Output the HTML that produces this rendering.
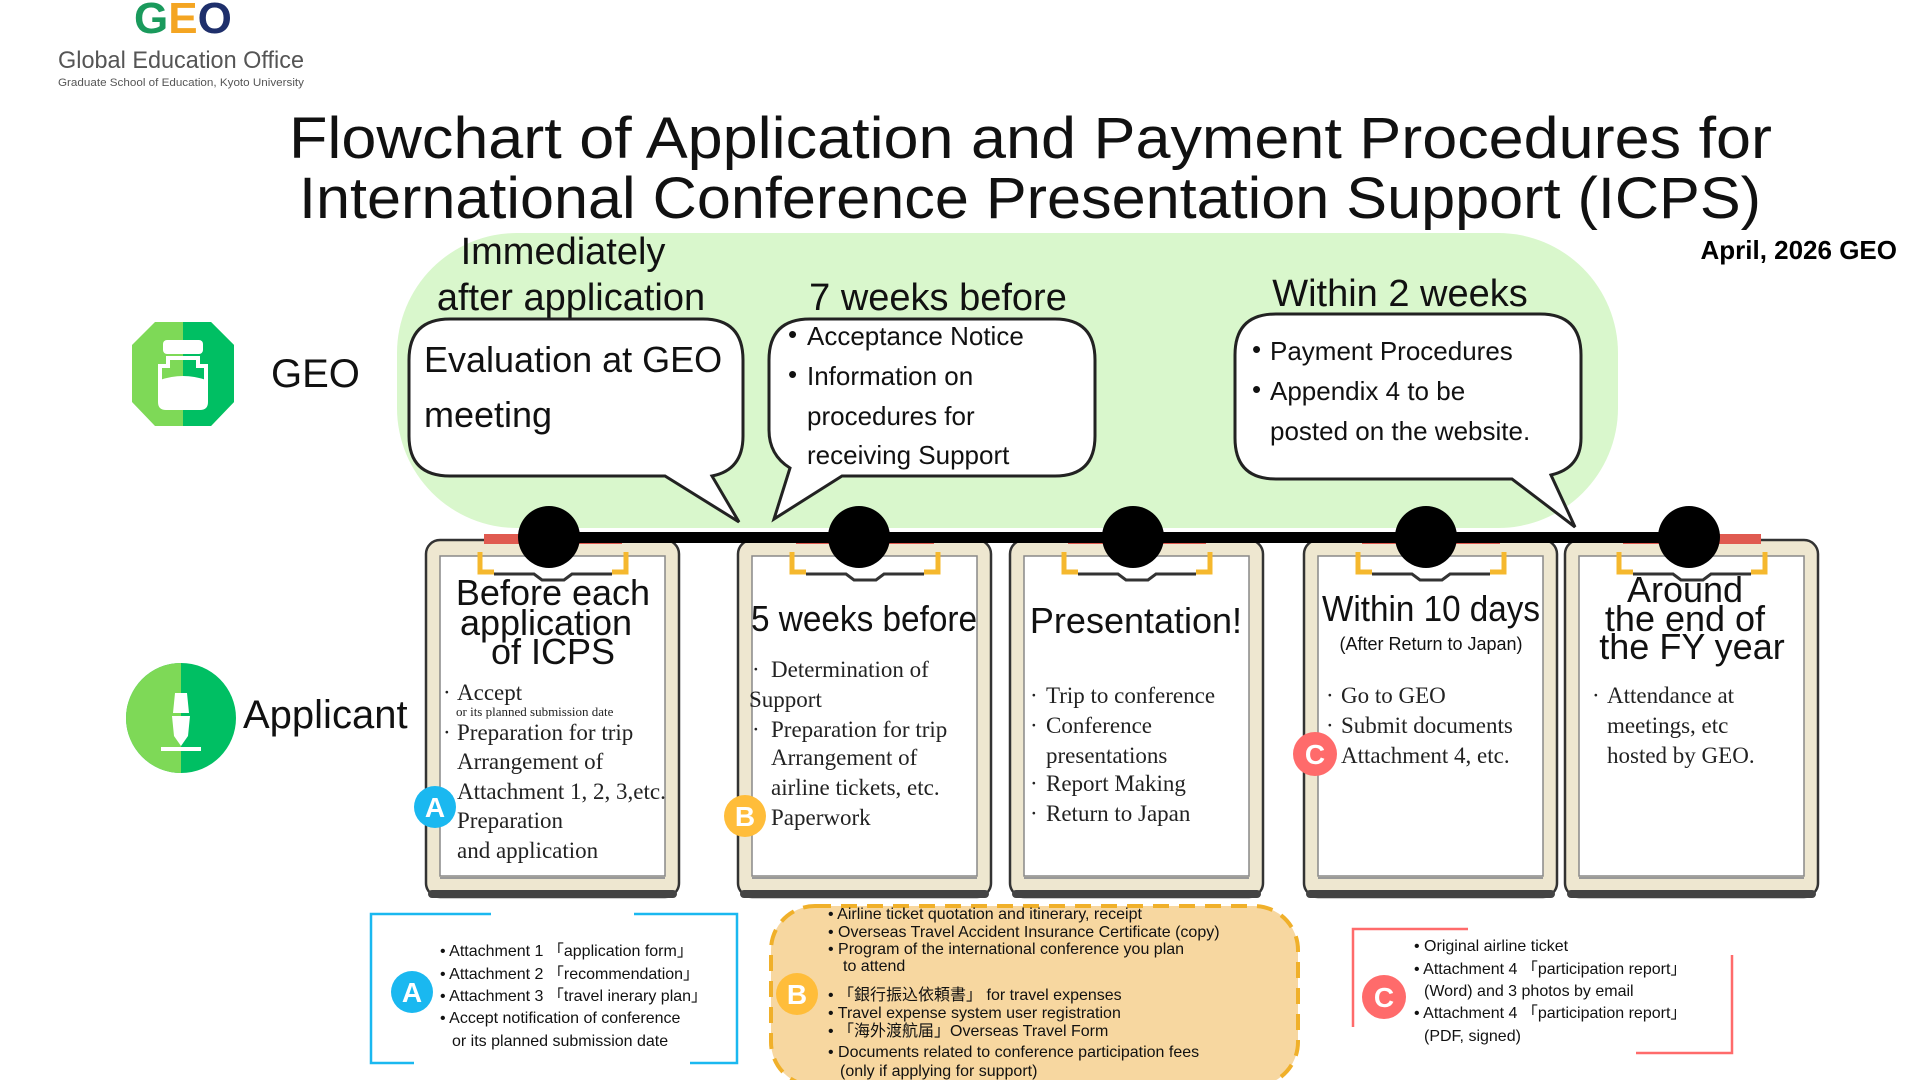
<!DOCTYPE html>
<html><head><meta charset="utf-8"><style>
html,body{margin:0;padding:0;background:#fff;width:1920px;height:1080px;overflow:hidden}
svg{display:block}
.h{font-family:"Liberation Sans Narrow","Liberation Sans",sans-serif}
.s{font-family:"Liberation Serif",serif;fill:#222}
.t{font-family:"Liberation Sans Narrow","Liberation Sans",sans-serif;fill:#111}
</style></head><body>
<svg width="1920" height="1080" viewBox="0 0 1920 1080" xmlns="http://www.w3.org/2000/svg">
<defs>
<g id="clip">
 <rect x="0" y="0" width="253" height="357" rx="14" fill="#eee7d0" stroke="#333" stroke-width="2.5"/>
 <rect x="2" y="350" width="249" height="8" rx="4" fill="#444"/>
 <rect x="14" y="16" width="225" height="320" fill="#fff" stroke="#888" stroke-width="1.5"/>
 <line x1="14" y1="338" x2="239" y2="338" stroke="#999" stroke-width="2"/>
 <rect x="58" y="-6" width="138" height="10" fill="#e05a50"/>
 <path d="M54 12 v20 h14 M200 12 v20 h-14" fill="none" stroke="#f5b82e" stroke-width="5"/>
 <path d="M68 34 h40 l8 6 h22 l8 -6 h40" fill="none" stroke="#333" stroke-width="3"/>
</g>
</defs>

<!-- logo -->
<text x="134" y="33" font-family="Liberation Sans" font-weight="bold" font-size="44" fill="#1a9a5c">G<tspan fill="#f4a522">E</tspan><tspan fill="#1e2f6b">O</tspan></text>
<text x="58" y="68" class="h" font-size="24" fill="#555" textLength="246" lengthAdjust="spacingAndGlyphs">Global Education Office</text>
<text x="58" y="86" class="h" font-size="11" fill="#555" textLength="246" lengthAdjust="spacingAndGlyphs">Graduate School of Education, Kyoto University</text>

<!-- title -->
<text x="289" y="158" class="t" font-size="58" textLength="1483" lengthAdjust="spacingAndGlyphs">Flowchart of Application and Payment Procedures for</text>
<text x="299" y="218" class="t" font-size="58" textLength="1462" lengthAdjust="spacingAndGlyphs">International Conference Presentation Support (ICPS)</text>
<text x="1897" y="259" text-anchor="end" font-family="Liberation Sans" font-weight="bold" font-size="26">April, 2026 GEO</text>

<!-- green region -->
<rect x="397" y="233" width="1221" height="295" rx="120" fill="#d9f7cc"/>

<text x="563" y="264" text-anchor="middle" class="t" font-size="38">Immediately</text>
<text x="571" y="310" text-anchor="middle" class="t" font-size="38">after application</text>
<text x="938" y="310" text-anchor="middle" class="t" font-size="38">7 weeks before</text>
<text x="1400" y="306" text-anchor="middle" class="t" font-size="38">Within 2 weeks</text>

<!-- bubbles -->
<path d="M450 319 H703 Q743 319 743 360 V436 Q743 470 712 476 L739 522 L665 476 H450 Q409 476 409 436 V360 Q409 319 450 319 Z" fill="#fff" stroke="#222" stroke-width="3"/>
<path d="M810 319 H1055 Q1095 319 1095 360 V436 Q1095 476 1055 476 H842 L774 519 L790 468 Q769 455 769 430 V360 Q769 319 810 319 Z" fill="#fff" stroke="#222" stroke-width="3"/>
<path d="M1276 314 H1540 Q1581 314 1581 355 V438 Q1581 468 1551 475 L1575 527 L1512 479 H1276 Q1235 479 1235 438 V355 Q1235 314 1276 314 Z" fill="#fff" stroke="#222" stroke-width="3"/>

<g class="t">
<text x="424" y="372" font-size="36">Evaluation at GEO</text>
<text x="424" y="427" font-size="36">meeting</text>
<g font-size="26">
<text x="788" y="343">•</text><text x="807" y="345">Acceptance Notice</text>
<text x="788" y="383">•</text><text x="807" y="385">Information on</text>
<text x="807" y="425">procedures for</text>
<text x="807" y="464">receiving Support</text>
<text x="1252" y="358">•</text><text x="1270" y="360">Payment Procedures</text>
<text x="1252" y="398">•</text><text x="1270" y="400">Appendix 4 to be</text>
<text x="1270" y="440">posted on the website.</text>
</g>
</g>

<!-- icons -->
<polygon points="155,322 211,322 234,345 234,402 211,426 155,426 132,402 132,345" fill="#7ed957"/>
<path d="M183 322 H211 L234 345 V402 L211 426 H183 Z" fill="#00bf63"/>
<polygon points="155,322 211,322 234,345 234,402 211,426 155,426 132,402 132,345" fill="none"/>
<rect x="163" y="340" width="40" height="14" rx="4" fill="#fff"/>
<path d="M160 366 h8 v-8 h30 v8 h8 v36 q0 6 -6 6 h-34 q-6 0 -6 -6 Z" fill="none" stroke="#fff" stroke-width="4"/>
<path d="M160 380 q23 -8 46 0 v22 q0 6 -6 6 h-34 q-6 0 -6 -6 Z" fill="#fff"/>
<text x="271" y="387" class="t" font-size="40">GEO</text>

<circle cx="181" cy="718" r="55" fill="#00bf63"/>
<path d="M181 663 A55 55 0 0 0 181 773 Z" fill="#7ed957"/>
<path d="M175 693 h12 l2 20 h-16 Z M172 716 h18 l-2 20 l-7 10 l-7 -10 Z" fill="#fff"/>
<rect x="161" y="747" width="40" height="4" fill="#fff"/>
<text x="243" y="728" class="t" font-size="40">Applicant</text>

<!-- clipboards -->
<use href="#clip" x="426" y="540"/>
<use href="#clip" x="738" y="540"/>
<use href="#clip" x="1010" y="540"/>
<use href="#clip" x="1304" y="540"/>
<use href="#clip" x="1565" y="540"/>

<!-- timeline -->
<rect x="549" y="532" width="1140" height="11" fill="#000"/>
<g fill="#000"><circle cx="549" cy="537" r="31"/><circle cx="859" cy="537" r="31"/><circle cx="1133" cy="537" r="31"/><circle cx="1426" cy="537" r="31"/><circle cx="1689" cy="537" r="31"/></g>

<!-- clipboard titles -->
<g class="t" text-anchor="middle" font-size="36">
<text x="553" y="605">Before each</text>
<text x="546" y="635">application</text>
<text x="553" y="664">of ICPS</text>
<text x="864" y="631" textLength="226" lengthAdjust="spacingAndGlyphs">5 weeks before</text>
<text x="1136" y="633">Presentation!</text>
<text x="1431" y="621" textLength="218" lengthAdjust="spacingAndGlyphs">Within 10 days</text>
<text x="1431" y="650" font-size="18">(After Return to Japan)</text>
<text x="1685" y="602">Around</text>
<text x="1685" y="631">the end of</text>
<text x="1692" y="659">the FY year</text>
</g>

<!-- bodies -->
<g class="s" font-size="23">
<text x="443" y="700">·</text><text x="457" y="700">Accept</text>
<text x="456" y="716" font-size="13">or its planned submission date</text>
<text x="443" y="740">·</text><text x="457" y="740">Preparation for trip</text>
<text x="457" y="769">Arrangement of</text>
<text x="457" y="799">Attachment 1, 2, 3,etc.</text>
<text x="457" y="828">Preparation</text>
<text x="457" y="858">and application</text>

<text x="752" y="677">·</text><text x="771" y="677">Determination of</text>
<text x="749" y="707">Support</text>
<text x="752" y="737">·</text><text x="771" y="737">Preparation for trip</text>
<text x="771" y="765">Arrangement of</text>
<text x="771" y="795">airline tickets, etc.</text>
<text x="771" y="825">Paperwork</text>

<text x="1030" y="703">·</text><text x="1046" y="703">Trip to conference</text>
<text x="1030" y="733">·</text><text x="1046" y="733">Conference</text>
<text x="1046" y="763">presentations</text>
<text x="1030" y="791">·</text><text x="1046" y="791">Report Making</text>
<text x="1030" y="821">·</text><text x="1046" y="821">Return to Japan</text>

<text x="1326" y="703">·</text><text x="1341" y="703">Go to GEO</text>
<text x="1326" y="733">·</text><text x="1341" y="733">Submit documents</text>
<text x="1341" y="763">Attachment 4, etc.</text>

<text x="1592" y="703">·</text><text x="1607" y="703">Attendance at</text>
<text x="1607" y="733">meetings, etc</text>
<text x="1607" y="763">hosted by GEO.</text>
</g>

<!-- badges -->
<g font-family="Liberation Sans" font-weight="bold" font-size="28" fill="#fff" text-anchor="middle">
<circle cx="435" cy="807" r="21" fill="#1ab8f0"/><text x="435" y="817">A</text>
<circle cx="745" cy="816" r="21" fill="#ffbd3a"/><text x="745" y="826">B</text>
<circle cx="1315" cy="754" r="22" fill="#ff6b6b"/><text x="1315" y="764">C</text>
</g>

<!-- bottom A -->
<path d="M491 914 H371 V1063 H414 M634 914 H737 V1063 H690" fill="none" stroke="#1ab8f0" stroke-width="2.5"/>
<circle cx="412" cy="992" r="21" fill="#1ab8f0"/>
<text x="412" y="1002" font-family="Liberation Sans" font-weight="bold" font-size="28" fill="#fff" text-anchor="middle">A</text>
<g class="t" font-size="16">
<text x="440" y="956">• Attachment 1 「application form」</text>
<text x="440" y="979">• Attachment 2 「recommendation」</text>
<text x="440" y="1001">• Attachment 3 「travel inerary plan」</text>
<text x="440" y="1023">• Accept notification of conference</text>
<text x="452" y="1046">or its planned submission date</text>
</g>

<!-- bottom B -->
<rect x="771" y="906" width="527" height="180" rx="44" fill="#f7d7a0" stroke="#f0b02a" stroke-width="4" stroke-dasharray="16 10"/>
<circle cx="797" cy="994" r="21" fill="#ffbd3a"/>
<text x="797" y="1004" font-family="Liberation Sans" font-weight="bold" font-size="28" fill="#fff" text-anchor="middle">B</text>
<g class="t" font-size="16" font-family="Liberation Sans Narrow,Liberation Sans,Noto Sans CJK JP,sans-serif">
<text x="828" y="919">• Airline ticket quotation and itinerary, receipt</text>
<text x="828" y="937">• Overseas Travel Accident Insurance Certificate (copy)</text>
<text x="828" y="954">• Program of the international conference you plan</text>
<text x="843" y="971">to attend</text>
<text x="828" y="1000">• 「銀行振込依頼書」 for travel expenses</text>
<text x="828" y="1018">• Travel expense system user registration</text>
<text x="828" y="1036">• 「海外渡航届」Overseas Travel Form</text>
<text x="828" y="1057">• Documents related to conference participation fees</text>
<text x="840" y="1076">(only if applying for support)</text>
</g>

<!-- bottom C -->
<path d="M1468 929 H1353 V1027 M1732 955 V1053 H1636" fill="none" stroke="#ff6b6b" stroke-width="2.5"/>
<circle cx="1384" cy="997" r="22" fill="#ff6b6b"/>
<text x="1384" y="1007" font-family="Liberation Sans" font-weight="bold" font-size="28" fill="#fff" text-anchor="middle">C</text>
<g class="t" font-size="16">
<text x="1414" y="951">• Original airline ticket</text>
<text x="1414" y="974">• Attachment 4 「participation report」</text>
<text x="1424" y="996">(Word) and 3 photos by email</text>
<text x="1414" y="1018">• Attachment 4 「participation report」</text>
<text x="1424" y="1041">(PDF, signed)</text>
</g>
</svg>
</body></html>
